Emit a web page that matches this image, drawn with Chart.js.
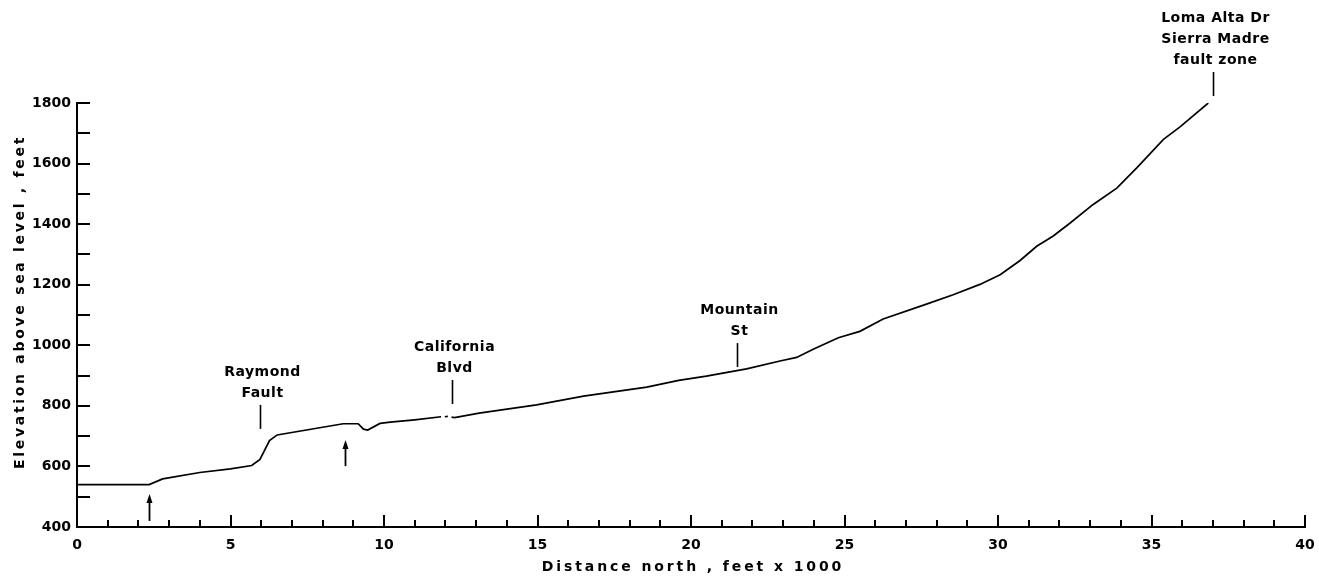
<!DOCTYPE html>
<html><head><meta charset="utf-8">
<script src="https://cdn.jsdelivr.net/npm/chart.js@4.4.1/dist/chart.umd.min.js"></script>
<style>html,body{margin:0;padding:0;background:#fff;}#wrap{width:1319px;height:576px;}</style>
</head><body><div id="wrap"><canvas id="c" width="1319" height="576"></canvas></div>
<script>
// ---- data (distance north, feet x 1000 ; elevation, feet) ----
const distance = [0, 2.35, 2.79, 4.0, 5.0, 5.69, 5.96, 6.27, 6.52, 8.67, 9.16, 9.33, 9.47, 9.87, 10.2, 11.0, 11.86, 11.92, 11.98, 12.08, 12.13, 12.2, 12.3, 13.1, 14.97, 16.5, 18.56, 19.6, 20.5, 21.81, 22.9, 23.44, 23.98, 24.8, 25.5, 26.26, 27.67, 28.54, 29.41, 30.07, 30.72, 31.26, 31.8, 32.34, 33.1, 33.87, 34.52, 35.39, 35.93, 36.85];
const elevation = [540, 540, 559, 580, 592, 603, 623, 685, 704, 741, 741, 723, 720, 742, 746, 754, 764, null, 764, 765, null, 763, 761, 776, 803, 832, 862, 884, 898, 922, 948, 960, 987, 1025, 1046, 1087, 1136, 1167, 1201, 1233, 1280, 1327, 1361, 1403, 1465, 1519, 1586, 1680, 1721, 1800];
const xTickLabels = [0, 5, 10, 15, 20, 25, 30, 35, 40];
const xMinorTicks = [1,2,3,4,6,7,8,9,11,12,13,14,16,17,18,19,21,22,23,24,26,27,28,29,31,32,33,34,36,37,38,39];
const yTickLabels = [400, 600, 800, 1000, 1200, 1400, 1600, 1800];
const yMinorTicks = [500, 700, 900, 1100, 1300, 1500, 1700];
const xTitle = 'Distance north , feet x 1000';
const yTitle = 'Elevation above sea level , feet';
// labelled locations: distance, elevation at foot of the pointer line, text lines
const placeX = [5.96, 12.2, 21.5, 37.0];
const placeY = [724, 806, 928, 1823];
const placeText = [['Raymond', 'Fault'], ['California', 'Blvd'], ['Mountain', 'St'], ['Loma Alta Dr', 'Sierra Madre', 'fault zone']];
// arrows: distance, tail elevation, head elevation
const arrowX = [2.35, 8.73];
const arrowTail = [420, 601];
const arrowHead = [509, 687];

const FONT = '"DejaVu Sans", sans-serif';
const points = distance.map((d, i) => ({x: d, y: elevation[i]}));

const decor = {
  id: 'decor',
  afterDraw(chart) {
    const {ctx, scales: {x, y}, chartArea: a} = chart;
    ctx.save();
    ctx.strokeStyle = '#000'; ctx.fillStyle = '#000';
    // inward ticks
    ctx.lineWidth = 2;
    ctx.beginPath();
    xTickLabels.forEach(v => { const p = Math.round(x.getPixelForValue(v)); ctx.moveTo(p, a.bottom); ctx.lineTo(p, a.bottom - 12); });
    xMinorTicks.forEach(v => { const p = Math.round(x.getPixelForValue(v)); ctx.moveTo(p, a.bottom); ctx.lineTo(p, a.bottom - 7); });
    yTickLabels.concat(yMinorTicks).forEach(v => { const p = Math.round(y.getPixelForValue(v)); ctx.moveTo(a.left, p); ctx.lineTo(a.left + 13, p); });
    ctx.stroke();
    // pointer lines and labels
    ctx.lineWidth = 1.6;
    ctx.font = 'bold 14px ' + FONT;
    ctx.letterSpacing = '0.5px';
    ctx.textAlign = 'center'; ctx.textBaseline = 'middle';
    placeX.forEach((vx, i) => {
      const px = Math.round(x.getPixelForValue(vx)) + 0.5;
      const pb = y.getPixelForValue(placeY[i]);
      const pt = pb - 24;
      ctx.beginPath(); ctx.moveTo(px, pb); ctx.lineTo(px, pt); ctx.stroke();
      const lines = placeText[i];
      lines.forEach((t, k) => {
        const cy = pt - 12 - (lines.length - 1 - k) * 21;
        ctx.fillText(t, px + 2, cy);
      });
    });
    // arrows
    arrowX.forEach((vx, i) => {
      const px = Math.round(x.getPixelForValue(vx)) + 0.5;
      const pb = y.getPixelForValue(arrowTail[i]);
      const ph = y.getPixelForValue(arrowHead[i]);
      ctx.lineWidth = 1.8;
      ctx.beginPath(); ctx.moveTo(px, pb); ctx.lineTo(px, ph + 6); ctx.stroke();
      ctx.beginPath(); ctx.moveTo(px, ph); ctx.lineTo(px - 3, ph + 9); ctx.lineTo(px + 3, ph + 9); ctx.closePath(); ctx.fill();
    });
    // axis titles
    ctx.font = 'bold 14px ' + FONT;
    ctx.letterSpacing = '2.9px';
    ctx.fillText(xTitle, 693, 567);
    ctx.translate(20, 302); ctx.rotate(-Math.PI / 2);
    ctx.letterSpacing = '2.7px';
    ctx.fillText(yTitle, 0, 0);
    ctx.restore();
  }
};

new Chart(document.getElementById('c'), {
  type: 'line',
  data: {datasets: [{data: points, borderColor: '#000', borderWidth: 1.7, pointRadius: 0, tension: 0, spanGaps: false, fill: false}]},
  options: {
    responsive: false, animation: false, devicePixelRatio: 1,
    layout: {padding: {top: 103, right: 14, left: 0, bottom: 0}},
    plugins: {legend: {display: false}, tooltip: {enabled: false}},
    scales: {
      x: {
        type: 'linear', min: 0, max: 40,
        afterBuildTicks(s) { s.ticks = xTickLabels.map(v => ({value: v})); },
        ticks: {color: '#000', font: {family: FONT, size: 14, weight: 'bold'}, padding: 10, maxRotation: 0, autoSkip: false, callback: v => String(v)},
        grid: {drawOnChartArea: false, drawTicks: false},
        border: {display: true, color: '#000', width: 2},
        afterFit(s) { s.height = 576 - 527; s.paddingRight = 0; s.paddingLeft = 0; }
      },
      y: {
        type: 'linear', min: 400, max: 1800,
        afterBuildTicks(s) { s.ticks = yTickLabels.map(v => ({value: v})); },
        ticks: {color: '#000', font: {family: FONT, size: 14, weight: 'bold'}, padding: 6, autoSkip: false, callback: v => String(v)},
        grid: {drawOnChartArea: false, drawTicks: false},
        border: {display: true, color: '#000', width: 2},
        afterFit(s) { s.width = 77; }
      }
    }
  },
  plugins: [decor]
});
</script>
</body></html>
